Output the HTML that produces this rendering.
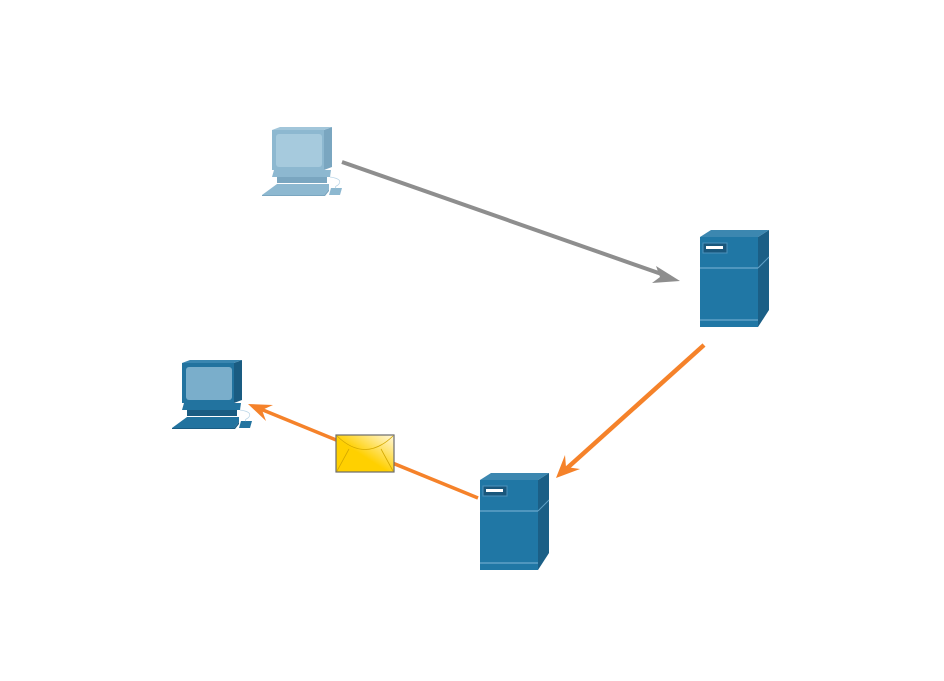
<!DOCTYPE html>
<html><head><meta charset="utf-8"><style>html,body{margin:0;padding:0;background:#fff}svg{display:block}</style></head>
<body>
<svg width="944" height="681" viewBox="0 0 944 681" xmlns="http://www.w3.org/2000/svg">
<defs>
<g id="srv">
  <path d="M58,0 L69,-7 L69,73 L58,90 Z" fill="#1b5f86"/>
  <path d="M0,0 L11,-7 L69,-7 L58,0 Z" fill="#3c87b0"/>
  <rect x="0" y="0" width="58" height="90" fill="#2077a5"/>
  <line x1="0" y1="31" x2="58" y2="31" stroke="#5fa0c6" stroke-width="1.5"/>
  <line x1="58" y1="31" x2="69" y2="20" stroke="#5fa0c6" stroke-width="1"/>
  <line x1="0" y1="83" x2="58" y2="83" stroke="#5fa0c6" stroke-width="1.5"/>
  <rect x="3" y="6" width="24" height="10" fill="#19577c" stroke="#4b92bb" stroke-width="1"/>
  <rect x="6" y="9" width="17" height="3" fill="#fff"/>
</g>
<linearGradient id="env" x1="0" y1="1" x2="1" y2="0"><stop offset="0.45" stop-color="#ffd000"/><stop offset="1" stop-color="#fff8e0"/></linearGradient>
</defs>
<g transform="translate(272,127)">
  <path d="M52,3 L60,0 L60,40 L52,43 Z" fill="#7aa6c0"/>
  <path d="M0,3 L8,0 L60,0 L52,3 Z" fill="#a2c6da"/>
  <rect x="0" y="3" width="52" height="40" fill="#8db8d0"/>
  <rect x="4" y="7" width="46" height="33" rx="3" fill="#a6cadd"/>
  <path d="M2,43 L59,43 L58,50 L0,50 Z" fill="#8db8d0"/>
  <rect x="5" y="50" width="50" height="6" fill="#7aa6c0"/>
  <path d="M5,57 L57,57 L57,62 L52,68 L-10,68 Z" fill="#8db8d0"/>
  <path d="M-10,68 L52,68 L57,62 L57,64 L53,69 L-10,69Z" fill="#7aa6c0"/>
  <path d="M59,61 L70,61 L68,68 L57,68 Z" fill="#8db8d0"/>
  <path d="M58,50 Q72,52 66,58 Q62,60 64,61" fill="none" stroke="#b8d4e6" stroke-width="0.7"/>
</g>
<g transform="translate(182,360)">
  <path d="M52,3 L60,0 L60,40 L52,43 Z" fill="#1a5c82"/>
  <path d="M0,3 L8,0 L60,0 L52,3 Z" fill="#3a86b0"/>
  <rect x="0" y="3" width="52" height="40" fill="#22739f"/>
  <rect x="4" y="7" width="46" height="33" rx="3" fill="#7aaecb"/>
  <path d="M2,43 L59,43 L58,50 L0,50 Z" fill="#22739f"/>
  <rect x="5" y="50" width="50" height="6" fill="#1a5c82"/>
  <path d="M5,57 L57,57 L57,62 L52,68 L-10,68 Z" fill="#22739f"/>
  <path d="M-10,68 L52,68 L57,62 L57,64 L53,69 L-10,69Z" fill="#1a5c82"/>
  <path d="M59,61 L70,61 L68,68 L57,68 Z" fill="#22739f"/>
  <path d="M58,50 Q72,52 66,58 Q62,60 64,61" fill="none" stroke="#b8d4e6" stroke-width="0.7"/>
</g>
<use href="#srv" transform="translate(700,237)"/>
<use href="#srv" transform="translate(480,480)"/>
<line x1="342" y1="162" x2="670" y2="277" stroke="#8e8e8e" stroke-width="4"/>
<path d="M680,281 L652,283 L660,277 L656,266 Z" fill="#8e8e8e"/>
<line x1="704" y1="345" x2="565" y2="470" stroke="#f5822a" stroke-width="4.5"/>
<path d="M556,478 L565,455 L566,467 L580,469 Z" fill="#f5822a"/>
<line x1="478" y1="498" x2="258" y2="408" stroke="#f5822a" stroke-width="3.5"/>
<path d="M248,404 L273,405 L262,410 L266,421 Z" fill="#f5822a"/>
<rect x="336" y="435" width="58" height="37" fill="url(#env)" stroke="#6b6b6b" stroke-width="1.2"/>
<path d="M337,436 Q365,463 393,436" fill="none" stroke="#d4a800" stroke-width="0.8"/>
<path d="M337,471 L349,449 M393,471 L381,449" fill="none" stroke="#d4a800" stroke-width="0.8"/>
</svg>
</body></html>
